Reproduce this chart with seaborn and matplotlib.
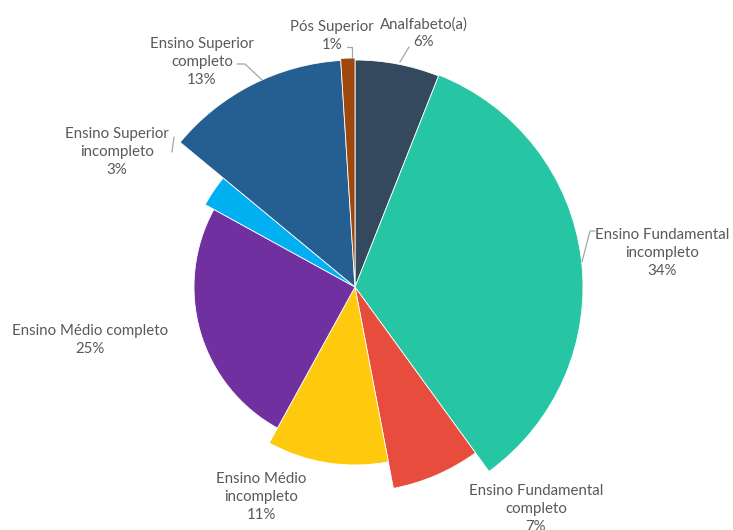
import matplotlib
matplotlib.use("Agg")
import matplotlib.pyplot as plt
import seaborn as sns

# Escolaridade dos respondentes (%)
categories = [
    "Analfabeto(a)",
    "Ensino Fundamental\nincompleto",
    "Ensino Fundamental\ncompleto",
    "Ensino Médio\nincompleto",
    "Ensino Médio completo",
    "Ensino Superior\nincompleto",
    "Ensino Superior\ncompleto",
    "Pós Superior",
]
percentages = [6, 34, 7, 11, 25, 3, 13, 1]

colors = ["#34495E", "#26C6A5", "#E74C3C", "#FFC90E",
          "#7030A0", "#00B0F0", "#255E91", "#9E480E"]
# radius of each wedge, in pixels
radii = [227, 228, 205, 178, 161, 171, 227, 229]

# label anchor points (pixels, y measured from the bottom) and leader lines
label_pos = [(424, 497), (662, 277), (536, 21), (261, 33),
             (90, 190), (117, 378), (202, 468), (332, 494)]
leaders = [
    [(409, 483), (400, 468)],
    [(595, 299), (590, 299), (582, 268)],
    None,
    None,
    None,
    [(174, 393), (172, 378)],
    [(237, 466), (245, 466), (262, 450)],
    [(347, 483), (352, 483), (352, 472)],
]

sns.set_theme(style="white")
plt.rcParams["font.family"] = ["Lato", "DejaVu Sans"]

fig = plt.figure(figsize=(7.33, 5.30), dpi=100)
ax = fig.add_axes([0, 0, 1, 1])

center = (355, 243)
wedges, _ = ax.pie(percentages, colors=colors, startangle=90,
                   counterclock=False, center=center, radius=1,
                   wedgeprops=dict(edgecolor="white", linewidth=0.6))
for w, r in zip(wedges, radii):
    w.set_radius(r)

for name, pct, (x, y), lead in zip(categories, percentages, label_pos, leaders):
    ax.text(x, y, f"{name}\n{pct}%", ha="center", va="center",
            fontsize=10.8, color="#595959", linespacing=1.35)
    if lead:
        xs, ys = zip(*lead)
        ax.plot(xs, ys, color="#A6A6A6", lw=0.9)

ax.set_xlim(0, 733)
ax.set_ylim(0, 530)
ax.set_aspect("equal")
ax.axis("off")

fig.savefig("out.png", dpi=100, facecolor="white")
